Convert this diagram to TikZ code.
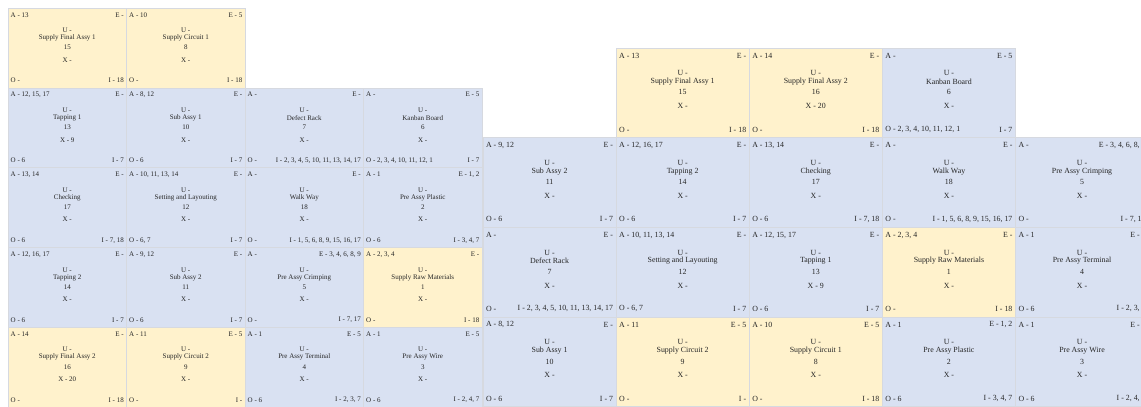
\documentclass[tikz,border=0pt]{standalone}
\usepackage{fontspec}
\setmainfont{Liberation Serif}
\usetikzlibrary{calc}
\definecolor{cellblue}{RGB}{217,225,242}
\definecolor{cellyellow}{RGB}{255,242,204}
\definecolor{cellline}{RGB}{214,217,224}

% one layout cell: coordinate id, fill style, A, E, title, number, X, O, I
\newcommand{\pcell}[9]{%
  \node[cell, #2] (#1-cell) at (#1) {};
  \node[lbl, anchor=west] (#1-a) at ($(#1-cell.north west)!0.085!(#1-cell.south west)$) {A - #3\unskip};
  \node[lbl, anchor=east] (#1-e) at ($(#1-cell.north east)!0.085!(#1-cell.south east)$) {E - #4\unskip};
  \node[lbl] (#1-u) at ($(#1-cell.north)!0.28!(#1-cell.south)$) {U -};
  \node[lbl] (#1-t) at ($(#1-cell.north)!0.375!(#1-cell.south)$) {#5};
  \node[lbl] (#1-n) at ($(#1-cell.north)!0.495!(#1-cell.south)$) {#6};
  \node[lbl] (#1-x) at ($(#1-cell.north)!0.65!(#1-cell.south)$) {X - #7\unskip};
  \node[lbl, anchor=west] (#1-o) at ($(#1-cell.north west)!0.91!(#1-cell.south west)$) {O - #8\unskip};
  \node[lbl, anchor=east] (#1-i) at ($(#1-cell.north east)!0.91!(#1-cell.south east)$) {I - #9\unskip};
}

\begin{document}
\begin{tikzpicture}[x=1pt,y=-1pt,
  cell/.style={draw=cellline, line width=0.5pt, anchor=north west, inner sep=0pt, outer sep=0pt,
    minimum width=118.5pt, minimum height=79.84pt},
  station/.style={fill=cellblue},
  supply/.style={fill=cellyellow},
  lbl/.style={font=\fontsize{7}{8}\selectfont, text=black!85, inner xsep=2.5pt, inner ysep=0.5pt},
]
\useasboundingbox (0,0) rectangle (1141,407);
\clip (0,0) rectangle (1141,407);
% ---------- left layout ----------
\foreach \c in {0,...,3} \foreach \r in {0,...,4} \coordinate (L\c\r) at ({8+118.5*\c},{8+79.84*\r});
\pcell{L00}{supply}{13}{}{Supply Final Assy 1}{15}{}{}{18}
\pcell{L10}{supply}{10}{5}{Supply Circuit 1}{8}{}{}{18}
\pcell{L01}{station}{12, 15, 17}{}{Tapping 1}{13}{9}{6}{7}
\pcell{L11}{station}{8, 12}{}{Sub Assy 1}{10}{}{6}{7}
\pcell{L21}{station}{}{}{Defect Rack}{7}{}{}{2, 3, 4, 5, 10, 11, 13, 14, 17}
\pcell{L31}{station}{}{5}{Kanban Board}{6}{}{2, 3, 4, 10, 11, 12, 1}{7}
\pcell{L02}{station}{13, 14}{}{Checking}{17}{}{6}{7, 18}
\pcell{L12}{station}{10, 11, 13, 14}{}{Setting and Layouting}{12}{}{6, 7}{7}
\pcell{L22}{station}{}{}{Walk Way}{18}{}{}{1, 5, 6, 8, 9, 15, 16, 17}
\pcell{L32}{station}{1}{1, 2}{Pre Assy Plastic}{2}{}{6}{3, 4, 7}
\pcell{L03}{station}{12, 16, 17}{}{Tapping 2}{14}{}{6}{7}
\pcell{L13}{station}{9, 12}{}{Sub Assy 2}{11}{}{6}{7}
\pcell{L23}{station}{}{3, 4, 6, 8, 9}{Pre Assy Crimping}{5}{}{}{7, 17}
\pcell{L33}{supply}{2, 3, 4}{}{Supply Raw Materials}{1}{}{}{18}
\pcell{L04}{supply}{14}{}{Supply Final Assy 2}{16}{20}{}{18}
\pcell{L14}{supply}{11}{5}{Supply Circuit 2}{9}{}{}{}
\pcell{L24}{station}{1}{5}{Pre Assy Terminal}{4}{}{6}{2, 3, 7}
\pcell{L34}{station}{1}{5}{Pre Assy Wire}{3}{}{6}{2, 4, 7}
% ---------- right layout (same cells, larger) ----------
\begin{scope}[shift={(483,48)}, scale=1.123, transform shape]
\foreach \c in {0,...,4} \foreach \r in {0,...,3} \coordinate (R\c\r) at ({118.5*\c},{79.84*\r});
\pcell{R10}{supply}{13}{}{Supply Final Assy 1}{15}{}{}{18}
\pcell{R20}{supply}{14}{}{Supply Final Assy 2}{16}{20}{}{18}
\pcell{R30}{station}{}{5}{Kanban Board}{6}{}{2, 3, 4, 10, 11, 12, 1}{7}
\pcell{R01}{station}{9, 12}{}{Sub Assy 2}{11}{}{6}{7}
\pcell{R11}{station}{12, 16, 17}{}{Tapping 2}{14}{}{6}{7}
\pcell{R21}{station}{13, 14}{}{Checking}{17}{}{6}{7, 18}
\pcell{R31}{station}{}{}{Walk Way}{18}{}{}{1, 5, 6, 8, 9, 15, 16, 17}
\pcell{R41}{station}{}{3, 4, 6, 8, 9}{Pre Assy Crimping}{5}{}{}{7, 17}
\pcell{R02}{station}{}{}{Defect Rack}{7}{}{}{2, 3, 4, 5, 10, 11, 13, 14, 17}
\pcell{R12}{station}{10, 11, 13, 14}{}{Setting and Layouting}{12}{}{6, 7}{7}
\pcell{R22}{station}{12, 15, 17}{}{Tapping 1}{13}{9}{6}{7}
\pcell{R32}{supply}{2, 3, 4}{}{Supply Raw Materials}{1}{}{}{18}
\pcell{R42}{station}{1}{5}{Pre Assy Terminal}{4}{}{6}{2, 3, 7}
\pcell{R03}{station}{8, 12}{}{Sub Assy 1}{10}{}{6}{7}
\pcell{R13}{supply}{11}{5}{Supply Circuit 2}{9}{}{}{}
\pcell{R23}{supply}{10}{5}{Supply Circuit 1}{8}{}{}{18}
\pcell{R33}{station}{1}{1, 2}{Pre Assy Plastic}{2}{}{6}{3, 4, 7}
\pcell{R43}{station}{1}{5}{Pre Assy Wire}{3}{}{6}{2, 4, 7}
\end{scope}
\end{tikzpicture}
\end{document}
